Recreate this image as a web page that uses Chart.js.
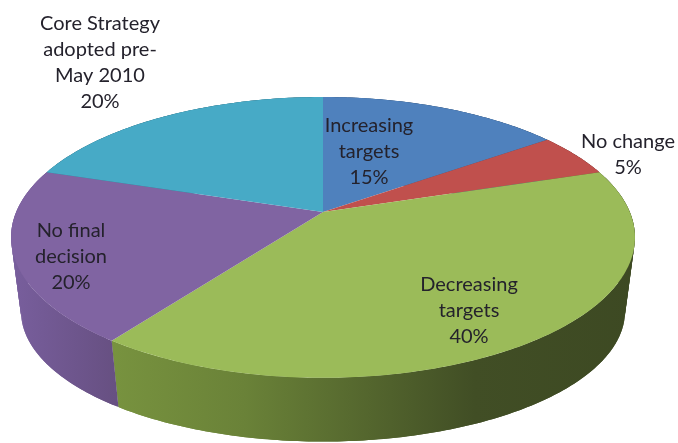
<!DOCTYPE html>
<html>
<head>
<meta charset="utf-8">
<title>Core Strategy targets</title>
<script src="https://cdn.jsdelivr.net/npm/chart.js@4/dist/chart.umd.js"></script>
<style>
  html, body { margin: 0; padding: 0; background: #fff; }
  canvas { display: block; filter: blur(0.6px); }
</style>
</head>
<body>
<canvas id="myChart" width="678" height="443"></canvas>
<script>
const categories = ["Increasing targets", "No change", "Decreasing targets", "No final decision", "Core Strategy adopted pre-May 2010"];
const shares = [15, 5, 40, 20, 20];
const sliceColors = ["#4f81bd", "#c0504d", "#9bbb59", "#8064a2", "#47aac6"];

// label wrapping as in the original, the last line is the percentage
const labelLines = [["Increasing", "targets"], ["No change"], ["Decreasing", "targets"], ["No final", "decision"], ["Core Strategy", "adopted pre-", "May 2010"]];
const labelCenters = [[369, 126], [628, 142], [469, 285], [71, 231], [100, 24]];

// perspective of the tilted disc
const view = { cx: 323, cy: 212, a: 306.8, b: 135.8, k: 0.181 };
const base = { cx: 323, cy: 287.7, a: 297, b: 126, k: 0.181 };

// side wall shading, left to right
const wallStops = [
  [[0, "#4a6d99"], [1, "#2f4d70"]],
  [[0, "#8c3a38"], [1, "#6f2e2c"]],
  [[0.16, "#78933f"], [0.36, "#6a8238"], [0.7, "#414e25"], [1, "#3c4822"]],
  [[0, "#7a60a0"], [0.17, "#675082"], [1, "#675082"]],
  [[0, "#33788c"], [1, "#2b6678"]]
];

function project(p, angle) {
  const u = Math.cos(angle), v = -Math.sin(angle);
  const d = 1 + p.k * v;
  return [p.cx + p.a * u / d, p.cy - p.b * v / d];
}

function traceRim(ctx, p, from, to) {
  const n = Math.max(2, Math.ceil(Math.abs(to - from) * 60));
  for (let i = 0; i <= n; i++) {
    const pt = project(p, from + (to - from) * i / n);
    ctx.lineTo(pt[0], pt[1]);
  }
}

const tiltedPie = {
  id: "tiltedPie",
  beforeDatasetsDraw(chart) {
    const ctx = chart.ctx;
    const arcs = chart.getDatasetMeta(0).data;

    // walls first, the top face covers the hidden ones
    // drawn as overlapping strips so the outline follows the silhouette
    arcs.forEach((arc, i) => {
      const grad = ctx.createLinearGradient(0, 0, 678, 0);
      wallStops[i].forEach(s => grad.addColorStop(s[0], s[1]));
      ctx.fillStyle = grad;
      const step = (arc.endAngle - arc.startAngle) / 60;
      for (let n = 0; n < 60; n++) {
        const from = arc.startAngle + n * step;
        const to = Math.min(from + 2 * step, arc.endAngle);
        ctx.beginPath();
        traceRim(ctx, view, from, to);
        traceRim(ctx, base, to, from);
        ctx.closePath();
        ctx.fill();
      }
    });

    arcs.forEach(arc => {
      ctx.beginPath();
      ctx.moveTo(view.cx, view.cy);
      traceRim(ctx, view, arc.startAngle, arc.endAngle);
      ctx.closePath();
      ctx.fillStyle = arc.options.backgroundColor;
      ctx.fill();
    });

    ctx.font = "20px Lato";
    ctx.fillStyle = "#24222c";
    ctx.textAlign = "center";
    ctx.textBaseline = "middle";
    labelLines.forEach((lines, i) => {
      const all = lines.concat(shares[i] + "%");
      all.forEach((line, j) => {
        ctx.fillText(line, labelCenters[i][0], labelCenters[i][1] + j * 26);
      });
    });
    return false;
  }
};

new Chart(document.getElementById("myChart"), {
  type: "pie",
  data: {
    labels: categories,
    datasets: [{ data: shares, backgroundColor: sliceColors, borderWidth: 0 }]
  },
  options: {
    responsive: false,
    animation: false,
    plugins: { legend: { display: false }, tooltip: { enabled: false } }
  },
  plugins: [tiltedPie]
});
</script>
</body>
</html>
